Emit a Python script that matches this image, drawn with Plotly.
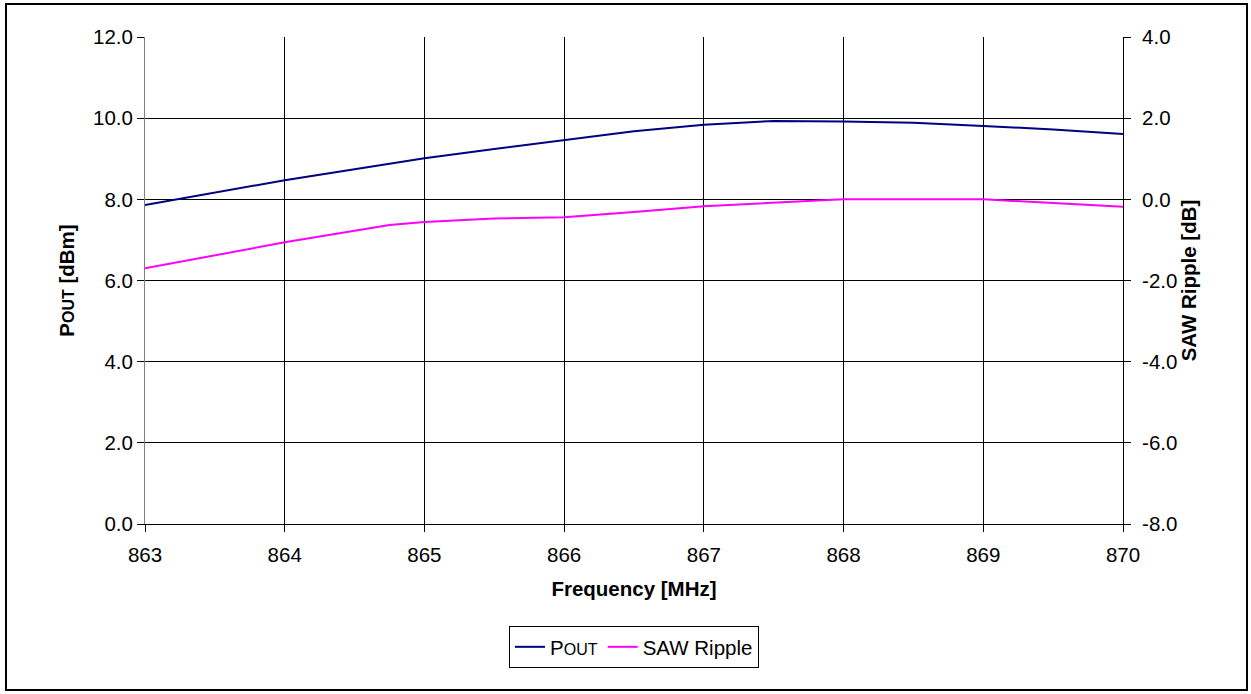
import plotly.graph_objects as go

# Data
pout_freq = [863, 863.5, 864, 864.5, 865, 865.5, 866, 866.5, 867, 867.5, 868, 868.5, 869, 869.5, 870]
pout_dbm = [7.86, 8.17, 8.47, 8.74, 9.01, 9.24, 9.46, 9.68, 9.84, 9.93, 9.92, 9.89, 9.81, 9.72, 9.61]

ripple_freq = [863, 864, 864.75, 865, 865.5, 866, 866.5, 867, 868, 869, 870]
ripple_db = [-1.70, -1.06, -0.63, -0.56, -0.47, -0.44, -0.31, -0.17, 0.0, 0.0, -0.18]

x_ticks = [863, 864, 865, 866, 867, 868, 869, 870]
y1_ticks = [0, 2, 4, 6, 8, 10, 12]
y2_ticks = [-8, -6, -4, -2, 0, 2, 4]
y2_labels = ["-8.0", "-6.0", "-4.0", "-2.0", "0.0", "2.0", "4.0"]

FONT = "Liberation Sans, Arial, sans-serif"
FS = 20.5
PL = 145; PR = 1123; PT = 37; PB = 524
W = 1251; H = 694
pw = PR - PL; ph = PB - PT

def px_x(p):
    return (p - PL) / pw

def px_y(p):
    return (PB - p) / ph

fig = go.Figure()
fig.add_trace(go.Scatter(
    x=pout_freq, y=pout_dbm, mode="lines",
    name="P<span style='font-size:16px'>OUT</span>",
    line=dict(color="#000080", width=2),
))
fig.add_trace(go.Scatter(
    x=ripple_freq, y=ripple_db, mode="lines", yaxis="y2",
    name="SAW Ripple",
    line=dict(color="#FF00FF", width=2),
))

axis_common = dict(
    showgrid=True, gridcolor="black", gridwidth=1,
    ticks="outside", ticklen=7, tickcolor="black", tickwidth=1,
    tickfont=dict(family=FONT, size=FS, color="black"),
    zeroline=False,
)

fig.update_layout(
    width=W, height=H,
    margin=dict(l=PL, r=W - PR, t=PT, b=H - PB),
    plot_bgcolor="white", paper_bgcolor="white",
    font=dict(family=FONT, color="black"),
    xaxis=dict(
        range=[863, 870], tickvals=x_ticks,
        ticklabelstandoff=5,
        title=dict(text="<b>Frequency [MHz]</b>", font=dict(family=FONT, size=FS), standoff=17),
        showline=True, linecolor="black", linewidth=1,
        **axis_common,
    ),
    yaxis=dict(
        range=[0, 12], tickvals=y1_ticks, tickformat=".1f",
        title=dict(text="<b>P<span style='font-size:16px'>OUT</span> [dBm]</b>",
                   font=dict(family=FONT, size=FS), standoff=12),
        showline=True, linecolor="#808080", linewidth=1,
        **axis_common,
    ),
    yaxis2=dict(
        range=[-8, 4], tickvals=y2_ticks, ticktext=y2_labels,
        overlaying="y", side="right",
        ticklabelstandoff=7,
        title=dict(text="<b>SAW Ripple [dB]</b>", font=dict(family=FONT, size=FS), standoff=5),
        showline=True, linecolor="black", linewidth=1,
        showgrid=False,
        ticks="outside", ticklen=7, tickcolor="black", tickwidth=1,
        tickfont=dict(family=FONT, size=FS, color="black"),
        zeroline=False,
    ),
    legend=dict(
        orientation="h", x=0.5, xanchor="center",
        y=px_y(626), yanchor="top",
        bordercolor="black", borderwidth=1, bgcolor="white",
        font=dict(family=FONT, size=FS, color="black"),
        itemwidth=30, tracegroupgap=0,
    ),
    showlegend=True,
)

# outer frame of the chart
fig.add_shape(
    type="rect", xref="paper", yref="paper",
    x0=px_x(6), x1=px_x(1247), y0=px_y(690), y1=px_y(4),
    line=dict(color="black", width=2), fillcolor="rgba(0,0,0,0)", layer="below",
)

fig.write_html(
    "out.html",
    config={"displayModeBar": False},
    post_script="document.body.style.margin='0';document.body.style.overflow='hidden';",
)
